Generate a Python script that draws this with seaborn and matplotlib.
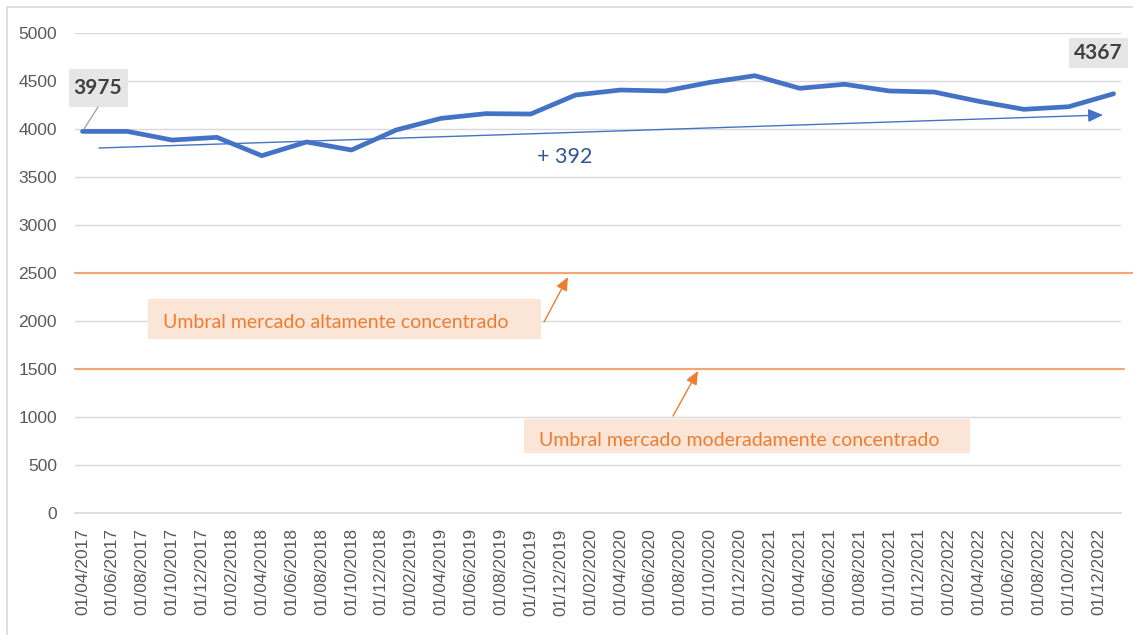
import matplotlib
matplotlib.use("Agg")
import matplotlib.pyplot as plt
import seaborn as sns
import pandas as pd
from matplotlib.patches import Rectangle
from matplotlib.lines import Line2D

# quarterly HHI values
fechas = ["2017-04-01", "2017-07-01", "2017-10-01",
          "2018-01-01", "2018-04-01", "2018-07-01", "2018-10-01",
          "2019-01-01", "2019-04-01", "2019-07-01", "2019-10-01",
          "2020-01-01", "2020-04-01", "2020-07-01", "2020-10-01",
          "2021-01-01", "2021-04-01", "2021-07-01", "2021-10-01",
          "2022-01-01", "2022-04-01", "2022-07-01", "2022-10-01",
          "2023-01-01"]
hhi = [3975, 3975, 3885, 3913, 3722, 3865, 3781,
       3990, 4111, 4160, 4156, 4354, 4406, 4396, 4486,
       4555, 4424, 4466, 4396, 4385, 4288, 4205, 4232, 4367]
umbral_alto = 2500
umbral_moderado = 1500
texto_alto = "Umbral mercado altamente concentrado"
texto_moderado = "Umbral mercado moderadamente concentrado"
etiqueta_ini = "3975"
etiqueta_fin = "4367"
variacion = "+ 392"

df = pd.DataFrame({"fecha": pd.to_datetime(fechas), "hhi": hhi})
inicio = df.fecha.iloc[0]
df["mes"] = (df.fecha.dt.year - inicio.year) * 12 + (df.fecha.dt.month - inicio.month)

# tick labels every two months
ticks = pd.date_range("2017-04-01", "2022-12-01", freq="2MS")
tick_mes = (ticks.year - inicio.year) * 12 + (ticks.month - inicio.month)
tick_lab = [t.strftime("%d/%m/%Y") for t in ticks]

W, H = 1133, 635
sns.set_style("white")
plt.rcParams["font.family"] = ["Liberation Sans", "DejaVu Sans"]
fig = plt.figure(figsize=(W / 100, H / 100), dpi=100)
ax = fig.add_axes([75 / W, 1 - 513 / H, (1121 - 75) / W, (513 - 33) / H])

def fp(x, y):
    # pixel position -> figure fraction
    return (x / W, 1 - y / H)

ax.set_ylim(0, 5000)
ax.set_xlim(-0.5, 69.5)
ax.set_yticks(range(0, 5001, 500))
ax.yaxis.grid(True, color="#D9D9D9", lw=1)
ax.set_axisbelow(True)

ax.axhline(umbral_alto, color="#F2A674", lw=1.5, xmax=1.02, clip_on=False, zorder=2)
ax.axhline(umbral_moderado, color="#F2A674", lw=1.5, xmax=1.003, clip_on=False, zorder=2)

sns.lineplot(data=df, x="mes", y="hhi", ax=ax, color="#4472C4", lw=3.4,
             solid_joinstyle="round", solid_capstyle="round", zorder=4)

for s in ["left", "top", "right"]:
    ax.spines[s].set_visible(False)
ax.spines["bottom"].set_color("#D9D9D9")
ax.spines["bottom"].set_linewidth(1.2)

ax.set_xticks(tick_mes)
ax.set_xticklabels(tick_lab, rotation=90, fontsize=12.5, color="#595959")
ax.set_xticks([m - 0.5 for m in tick_mes] + [69.5], minor=True)
ax.tick_params(axis="x", which="major", length=0, pad=11)
ax.tick_params(axis="x", which="minor", length=6, color="#D9D9D9", width=1.2)
ax.tick_params(axis="y", length=0, pad=13, labelsize=12.5, labelcolor="#595959")
ax.set_xlabel("")
ax.set_ylabel("")

# trend arrow
ax.annotate("", xy=fp(1103, 115), xytext=fp(99, 148), xycoords="figure fraction",
            textcoords="figure fraction",
            arrowprops=dict(arrowstyle="-|>,head_length=0.9,head_width=0.4",
                            color="#4472C4", lw=1, shrinkA=0, shrinkB=0))
fig.text(*fp(565, 157), variacion, ha="center", va="center", fontsize=15.5,
         color="#2F5597", family="Lato")

# data labels
fig.patches.append(Rectangle(fp(69, 107), 59 / W, 38 / H, transform=fig.transFigure,
                             facecolor="#E7E6E6", edgecolor="none", zorder=5))
fig.text(*fp(98, 88), etiqueta_ini, ha="center", va="center", fontsize=15,
         fontweight="bold", color="#404040", family="Lato", zorder=6)
fig.lines.append(Line2D([98 / W, 84 / W], [1 - 107 / H, 1 - 129 / H],
                        transform=fig.transFigure, color="#A6A6A6", lw=1, zorder=6))
fig.patches.append(Rectangle(fp(1069, 68), 59 / W, 30 / H, transform=fig.transFigure,
                             facecolor="#E7E6E6", edgecolor="none", zorder=5))
fig.text(*fp(1098, 53), etiqueta_fin, ha="center", va="center", fontsize=15,
         fontweight="bold", color="#404040", family="Lato", zorder=6)

# threshold boxes
fig.patches.append(Rectangle(fp(148, 339), 393 / W, 40 / H, transform=fig.transFigure,
                             facecolor="#FBE5D6", edgecolor="none", zorder=5))
fig.text(*fp(163, 322), texto_alto, ha="left", va="center", fontsize=14,
         color="#ED7D31", family="Lato", zorder=6)
fig.patches.append(Rectangle(fp(524, 453), 446 / W, 34 / H, transform=fig.transFigure,
                             facecolor="#FBE5D6", edgecolor="none", zorder=5))
fig.text(*fp(539, 440), texto_moderado, ha="left", va="center", fontsize=14,
         color="#ED7D31", family="Lato", zorder=6)

for tail, head in [((544, 322), (568, 277)), ((673, 416), (698, 371))]:
    ax.annotate("", xy=fp(*head), xytext=fp(*tail), xycoords="figure fraction",
                textcoords="figure fraction",
                arrowprops=dict(arrowstyle="-|>,head_length=0.8,head_width=0.35",
                                color="#ED7D31", lw=1, shrinkA=0, shrinkB=0))

# chart border
fig.lines.append(Line2D([7 / W, 7 / W], [0, 1 - 7 / H], transform=fig.transFigure,
                        color="#D9D9D9", lw=1.2))
fig.lines.append(Line2D([7 / W, 1], [1 - 7 / H, 1 - 7 / H], transform=fig.transFigure,
                        color="#D9D9D9", lw=1.2))

fig.savefig("out.png", dpi=100)
